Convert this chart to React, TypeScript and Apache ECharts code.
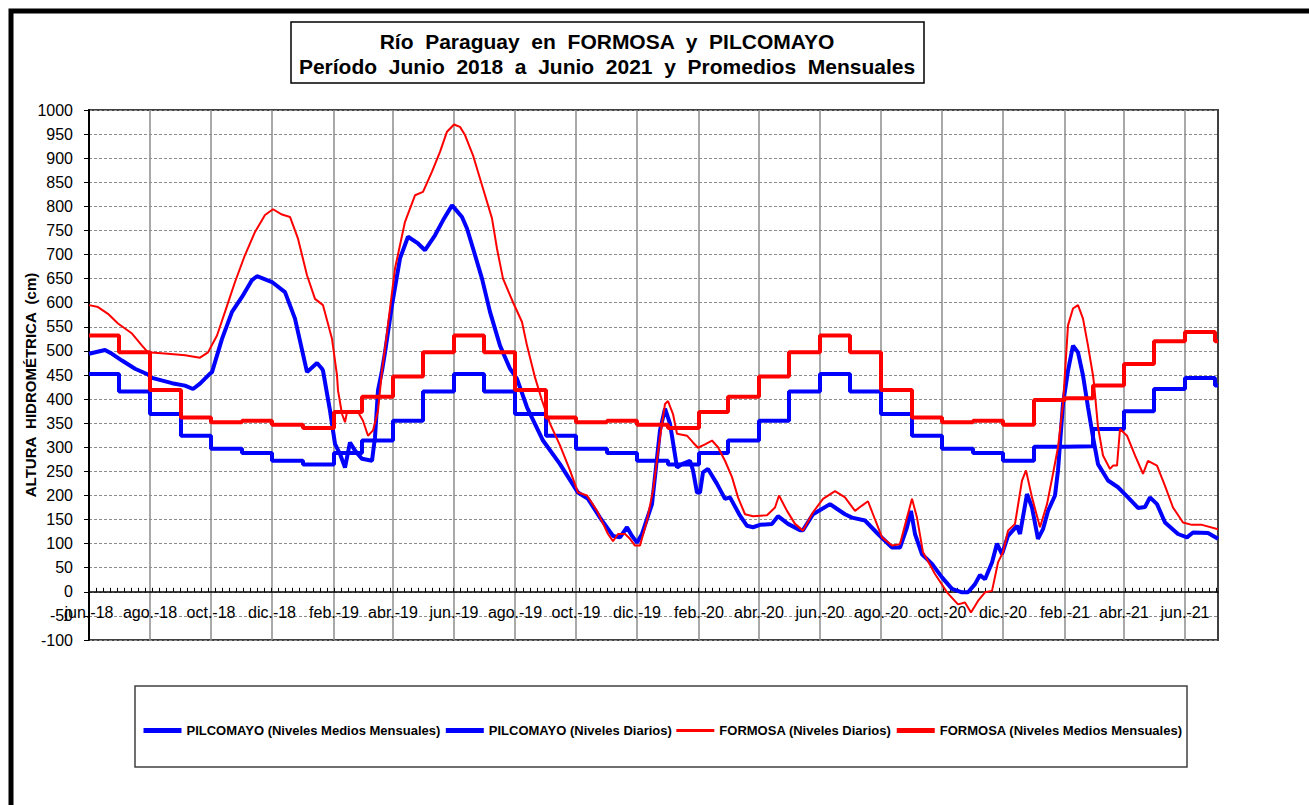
import React, { useEffect, useRef } from "react";
import * as echarts from "echarts";

// ---------- Data ----------
const FIRST_DAY = "2018-06-01";
const LAST_DAY = "2021-07-04";

const MONTH_ABBR = ["ene.", "feb.", "mar.", "abr.", "may.", "jun.", "jul.", "ago.", "sep.", "oct.", "nov.", "dic."];

// Month starts covered by the monthly-average steps (jun-2018 .. jul-2021)
const MONTHS = [
  "2018-06", "2018-07", "2018-08", "2018-09", "2018-10", "2018-11", "2018-12",
  "2019-01", "2019-02", "2019-03", "2019-04", "2019-05", "2019-06", "2019-07", "2019-08", "2019-09", "2019-10", "2019-11", "2019-12",
  "2020-01", "2020-02", "2020-03", "2020-04", "2020-05", "2020-06", "2020-07", "2020-08", "2020-09", "2020-10", "2020-11", "2020-12",
  "2021-01", "2021-02", "2021-03", "2021-04", "2021-05", "2021-06", "2021-07",
];

// Tick label / vertical grid months
const TICK_MONTHS = [
  "2018-06", "2018-08", "2018-10", "2018-12", "2019-02", "2019-04", "2019-06", "2019-08", "2019-10", "2019-12",
  "2020-02", "2020-04", "2020-06", "2020-08", "2020-10", "2020-12", "2021-02", "2021-04", "2021-06",
];

const PILCOMAYO_MENSUAL = [
  452, 416, 369, 324, 297, 288, 272,
  264, 288, 314, 355, 416, 452, 416, 369, 324, 297, 288, 272,
  264, 288, 314, 355, 416, 452, 416, 369, 324, 297, 288, 272,
  301, 302, 338, 375, 421, 444, 428,
];

const FORMOSA_MENSUAL = [
  532, 497, 419, 362, 352, 355, 347,
  340, 373, 405, 447, 497, 532, 497, 419, 362, 352, 355, 347,
  340, 373, 405, 447, 497, 532, 497, 419, 362, 352, 355, 347,
  398, 402, 428, 473, 520, 539, 520,
];

// [days since 2018-06-01, level cm]
const PILCOMAYO_DIARIO: [number, number][] = [
  [0, 494], [16, 502], [23, 494], [33, 480], [46, 463], [59, 451], [63, 444], [83, 433], [96, 428], [104, 421],
  [111, 432], [121, 453], [123, 456], [133, 525], [143, 581], [153, 612], [163, 647], [168, 655], [183, 643],
  [196, 622], [206, 567], [218, 456], [228, 475], [233, 463], [234, 459], [241, 376], [246, 307], [251, 286],
  [256, 258], [261, 310], [266, 293], [273, 276], [283, 272], [286, 321], [289, 418], [293, 459], [296, 497],
  [303, 595], [311, 692], [319, 737], [329, 723], [336, 709], [346, 740], [354, 771], [363, 802], [368, 790],
  [373, 778], [378, 754], [386, 699], [393, 650], [401, 581], [411, 511], [421, 463], [428, 442], [438, 383],
  [454, 314], [471, 265], [489, 206], [499, 193], [511, 154], [524, 116], [531, 113], [538, 134], [543, 116],
  [548, 102], [553, 120], [563, 182], [571, 335], [576, 380], [581, 349], [588, 258], [593, 265], [601, 272],
  [604, 252], [608, 206], [611, 206], [614, 248], [619, 255], [628, 224], [636, 193], [641, 196], [651, 158],
  [658, 137], [664, 134], [671, 139], [683, 141], [689, 157], [699, 141], [711, 128], [714, 128], [724, 161],
  [741, 182], [746, 175], [756, 161], [763, 154], [776, 148], [789, 120], [803, 92], [811, 92], [818, 134],
  [822, 168], [826, 120], [833, 78], [843, 58], [853, 30], [863, 6], [873, -1], [879, -1], [886, 16], [891, 35],
  [896, 26], [903, 61], [908, 100], [913, 78], [919, 116], [928, 137], [931, 120], [938, 203], [943, 175],
  [949, 110], [954, 130], [959, 168], [966, 200], [969, 252], [974, 390], [979, 459], [984, 511], [989, 497],
  [994, 449], [999, 383], [1004, 321], [1009, 265], [1019, 231], [1029, 217], [1039, 196], [1049, 174],
  [1056, 176], [1061, 196], [1068, 182], [1076, 144], [1089, 120], [1098, 113], [1104, 123], [1119, 122],
  [1129, 110],
];

const FORMOSA_DIARIO: [number, number][] = [
  [0, 595], [9, 591], [19, 577], [29, 557], [43, 536], [53, 511], [59, 497], [79, 494], [96, 491], [111, 486],
  [119, 497], [128, 532], [136, 581], [146, 643], [156, 699], [166, 747], [176, 782], [184, 794], [193, 783],
  [201, 778], [209, 733], [218, 657], [226, 608], [234, 595], [243, 525], [248, 449], [249, 418], [253, 369],
  [256, 352], [258, 373], [263, 373], [269, 373], [274, 355], [279, 324], [284, 335], [289, 376], [293, 459],
  [296, 505], [306, 671], [316, 768], [326, 823], [334, 830], [343, 872], [351, 913], [358, 955], [365, 970],
  [371, 965], [376, 948], [384, 906], [394, 837], [403, 775], [408, 712], [414, 650], [424, 601], [433, 560],
  [438, 511], [446, 445], [453, 397], [461, 349], [471, 304], [481, 252], [489, 206], [498, 200], [508, 168],
  [519, 120], [524, 105], [529, 120], [536, 120], [541, 110], [546, 96], [551, 96], [558, 148], [564, 210],
  [571, 321], [576, 390], [579, 396], [584, 369], [588, 328], [598, 324], [604, 310], [609, 299], [616, 306],
  [623, 314], [629, 300], [636, 272], [643, 238], [649, 196], [656, 161], [664, 157], [678, 159], [686, 175],
  [690, 200], [698, 168], [706, 141], [714, 127], [724, 165], [734, 193], [746, 209], [756, 196], [766, 168],
  [773, 179], [779, 188], [784, 161], [793, 113], [803, 96], [811, 99], [818, 154], [823, 193], [828, 154],
  [834, 82], [846, 37], [858, -1], [869, -26], [876, -22], [882, -43], [889, -19], [896, -1], [903, 2],
  [909, 61], [914, 82], [919, 127], [926, 141], [933, 231], [937, 252], [943, 196], [951, 134], [958, 182],
  [964, 245], [969, 300], [974, 390], [979, 553], [984, 588], [989, 595], [994, 567], [999, 511], [1004, 449],
  [1005, 432], [1009, 342], [1014, 283], [1021, 255], [1024, 262], [1028, 262], [1031, 338], [1038, 324],
  [1046, 283], [1054, 245], [1059, 272], [1068, 262], [1076, 220], [1084, 175], [1094, 144], [1103, 139],
  [1113, 139], [1129, 130],
];

const SERIES_NAMES = [
  "PILCOMAYO (Niveles Medios Mensuales)",
  "PILCOMAYO (Niveles Diarios)",
  "FORMOSA (Niveles Diarios)",
  "FORMOSA (Niveles Medios Mensuales)",
];

const TITLE_LINES = [
  "Río  Paraguay  en  FORMOSA  y  PILCOMAYO",
  "Período  Junio  2018  a  Junio  2021  y  Promedios  Mensuales",
];
const Y_NAME = "ALTURA  HIDROMÉTRICA  (cm)";

// ---------- helpers ----------
const DAY_MS = 86400000;
const parseUTC = (s: string) => {
  const [y, m, d] = s.split("-").map(Number);
  return Date.UTC(y, m - 1, d || 1);
};
const START = parseUTC(FIRST_DAY);
const N_DAYS = Math.round((parseUTC(LAST_DAY) - START) / DAY_MS) + 1;
const dayIndex = (s: string) => Math.round((parseUTC(s) - START) / DAY_MS);
const pad = (n: number) => (n < 10 ? "0" + n : "" + n);
const DAYS: string[] = Array.from({ length: N_DAYS }, (_, i) => {
  const d = new Date(START + i * DAY_MS);
  return `${d.getUTCFullYear()}-${pad(d.getUTCMonth() + 1)}-${pad(d.getUTCDate())}`;
});
const TICK_IDX = new Set(TICK_MONTHS.map(dayIndex));

const stepData = (vals: number[]) => {
  const pts: [number, number][] = MONTHS.map((m, i) => [dayIndex(m), vals[i]]);
  pts.push([N_DAYS - 1, vals[vals.length - 1]]);
  return pts;
};

const FONT = '"Liberation Sans", Arial, sans-serif';

export default function App() {
  const ref = useRef<HTMLDivElement>(null);
  useEffect(() => {
    if (!ref.current) return;
    const chart = echarts.init(ref.current, undefined, { renderer: "svg" });
    const BLUE = "#0000ff";
    const RED = "#ff0000";
    const LEGEND_WIDTHS = [5, 5, 3, 5];
    chart.setOption({
      animation: false,
      backgroundColor: "#ffffff",
      textStyle: { fontFamily: FONT },
      grid: {
        left: 89, right: 91, top: 110, bottom: 165,
        show: true, borderColor: "#404040", borderWidth: 2,
      },
      legend: {
        left: 136, top: 719,
        itemWidth: 38, itemHeight: 14, itemGap: 3,
        data: SERIES_NAMES.map((name, i) => ({ name, lineStyle: { width: LEGEND_WIDTHS[i] } })),
        itemStyle: { opacity: 0 },
        textStyle: { color: "#000", fontWeight: "bold", fontSize: 13, fontFamily: FONT },
        selectedMode: false,
      },
      xAxis: {
        type: "category",
        data: DAYS,
        boundaryGap: false,
        axisLine: { onZero: true, lineStyle: { color: "#000", width: 1.5 } },
        axisTick: {
          show: true, inside: true, length: 4,
          interval: (i: number) => i % 7 === 0,
          lineStyle: { color: "#000", width: 1 },
        },
        axisLabel: {
          interval: (i: number) => TICK_IDX.has(i),
          formatter: (v: string) => {
            const [y, m] = v.split("-");
            return `${MONTH_ABBR[Number(m) - 1]}-${y.slice(2)}`;
          },
          color: "#000", fontSize: 16, margin: -36, fontFamily: FONT,
        },
        splitLine: {
          show: true,
          interval: (i: number) => TICK_IDX.has(i),
          lineStyle: { color: "#8c8c8c", width: 1.5 },
        },
      },
      yAxis: {
        type: "value",
        min: -100, max: 1000, interval: 50,
        axisLine: { show: true, lineStyle: { color: "#000", width: 2 } },
        axisTick: { show: true, length: 5, lineStyle: { color: "#000" } },
        axisLabel: { color: "#000", fontSize: 16, margin: 16, fontFamily: FONT, formatter: (v: number) => String(v) },
        splitLine: { show: true, lineStyle: { color: "#8c8c8c", type: [3, 2], width: 1 } },
      },
      graphic: [
        {
          type: "rect", silent: true, z: -1,
          shape: { x: 11, y: 11, width: 1400, height: 900 },
          style: { fill: "none", stroke: "#000", lineWidth: 5 },
        },
        {
          type: "rect", silent: true,
          shape: { x: 291, y: 22, width: 633, height: 61 },
          style: { fill: "#fff", stroke: "#000", lineWidth: 1.5 },
        },
        {
          type: "text", silent: true, x: 607, y: 41,
          style: { text: TITLE_LINES[0], align: "center", verticalAlign: "middle", fontSize: 21, fontWeight: "bold", fontFamily: FONT, fill: "#000" },
        },
        {
          type: "text", silent: true, x: 607, y: 66,
          style: { text: TITLE_LINES[1], align: "center", verticalAlign: "middle", fontSize: 21, fontWeight: "bold", fontFamily: FONT, fill: "#000" },
        },
        {
          type: "text", silent: true, x: 30, y: 385, rotation: Math.PI / 2,
          style: { text: Y_NAME, align: "center", verticalAlign: "middle", fontSize: 15, fontWeight: "bold", fontFamily: FONT, fill: "#000" },
        },
        {
          type: "rect", silent: true,
          shape: { x: 135, y: 686, width: 1052, height: 81 },
          style: { fill: "none", stroke: "#404040", lineWidth: 1.5 },
        },
      ],
      series: [
        {
          name: SERIES_NAMES[0], type: "line", step: "end", data: stepData(PILCOMAYO_MENSUAL),
          symbol: "none", showSymbol: false, color: BLUE, lineStyle: { color: BLUE, width: 4 },
        },
        {
          name: SERIES_NAMES[1], type: "line", data: PILCOMAYO_DIARIO,
          symbol: "none", showSymbol: false, color: BLUE, lineStyle: { color: BLUE, width: 4 },
        },
        {
          name: SERIES_NAMES[2], type: "line", data: FORMOSA_DIARIO,
          symbol: "none", showSymbol: false, color: RED, lineStyle: { color: RED, width: 2 },
        },
        {
          name: SERIES_NAMES[3], type: "line", step: "end", data: stepData(FORMOSA_MENSUAL),
          symbol: "none", showSymbol: false, color: RED, lineStyle: { color: RED, width: 4 },
        },
      ],
    });
    return () => chart.dispose();
  }, []);
  return (
    <div
      ref={ref}
      style={{ position: "absolute", left: 0, top: 0, width: 1309, height: 805, background: "#fff" }}
    />
  );
}
